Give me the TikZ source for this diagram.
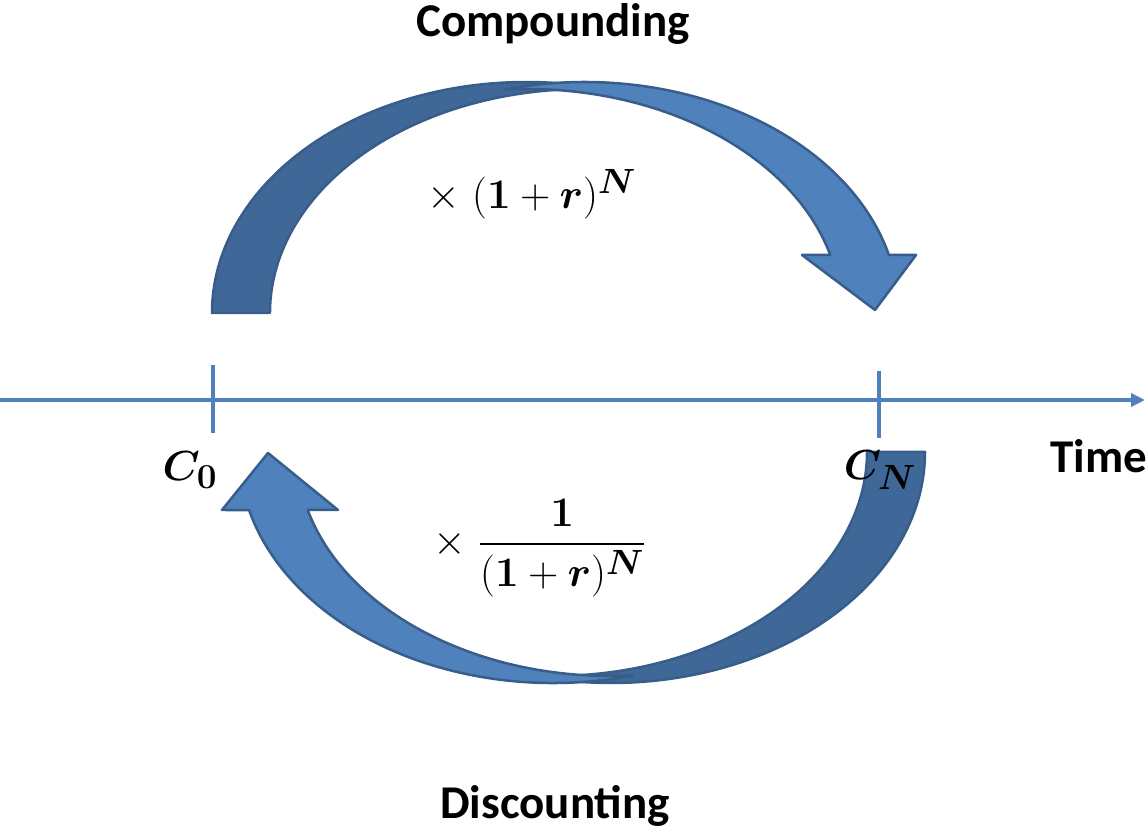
\documentclass[tikz,border=0pt]{standalone}
\usepackage{amsmath,bm}
\usepackage[no-math]{fontspec}
\setmainfont{Carlito}
\usetikzlibrary{arrows.meta}
\definecolor{axisblue}{HTML}{4F81BD}
\definecolor{bandlight}{HTML}{4F81BD}
\definecolor{banddark}{HTML}{3F6797}
\definecolor{bandline}{HTML}{385D8A}
\tikzset{
  band/.style={draw=bandline, line width=2.5pt, line join=round},
  lightband/.style={band, fill=bandlight},
  darkband/.style={band, fill=banddark},
  axisline/.style={draw=axisblue, line width=4pt},
  ticksty/.style={draw=axisblue, line width=4pt},
  wordlbl/.style={font=\fontsize{47}{56}\selectfont\bfseries, inner sep=0pt},
  mathlbl/.style={font=\Huge, scale=1.69, inner sep=0pt},
}
\begin{document}
\begin{tikzpicture}[x=1pt,y=1pt]
\clip (0,0) rectangle (1146,830);
% time axis
\coordinate (ax0) at (0,430);
\coordinate (ax1) at (1145,430);
\draw[axisline,-{Triangle[length=14pt,width=13pt]}] (ax0) -- (ax1);
\coordinate (t0a) at (213,465);
\coordinate (t0b) at (213,397);
\coordinate (tna) at (879,459);
\coordinate (tnb) at (879,392);
\draw[ticksty] (t0a) -- (t0b);
\draw[ticksty] (tna) -- (tnb);
% compounding arrow
\path[darkband] (212,517) arc[start angle=180,end angle=75.36,x radius=314.5,y radius=231]
  arc[start angle=86.08,end angle=180,x radius=314.5,y radius=224] -- cycle;
\path[lightband] (505,740.5) arc[start angle=104.64,end angle=14.54,x radius=314.5,y radius=231]
  -- (916,575) -- (875,520) -- (802,575) -- (830.3,575)
  arc[start angle=15.01,end angle=93.92,x radius=314.5,y radius=224] -- cycle;
% discounting arrow
\path[darkband] (925,378) arc[start angle=0,end angle=-104.67,x radius=314,y radius=231]
  arc[start angle=-93.93,end angle=0,x radius=314,y radius=224] -- cycle;
\path[lightband] (632.5,154.5) arc[start angle=-75.33,end angle=-165.46,x radius=314,y radius=231]
  -- (222,320) -- (268,377) -- (338,320) -- (307.7,320)
  arc[start angle=-164.99,end angle=-86.07,x radius=314,y radius=224] -- cycle;
% labels
\node[mathlbl] (c0) at (190,360) {$\bm{C}_{\mathbf{0}}$};
\node[mathlbl] (cn) at (880,360) {$\bm{C}_{\bm{N}}$};
\node[wordlbl, anchor=base west] (time) at (1050,357) {Time};
\node[wordlbl, anchor=base] (comp) at (553,793) {Compounding};
\node[wordlbl, anchor=base] (disc) at (555,12) {Discounting};
\node[mathlbl] (cf) at (532,636) {$\times\;(\mathbf{1}+\bm{r})^{\bm{N}}$};
\node[mathlbl] (df) at (540,282) {$\times\;\dfrac{\mathbf{1}}{(\mathbf{1}+\bm{r})^{\bm{N}}}$};
\end{tikzpicture}
\end{document}
